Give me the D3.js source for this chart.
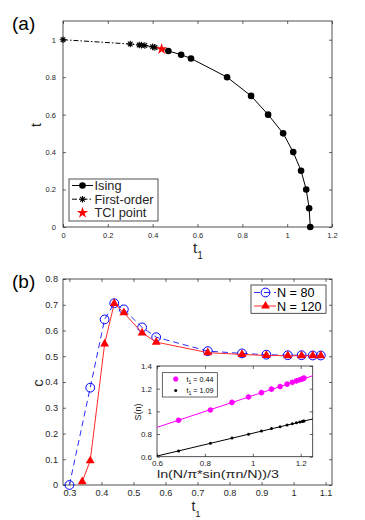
<!DOCTYPE html>
<html><head><meta charset="utf-8">
<script src="https://cdn.jsdelivr.net/npm/d3@7"></script>
<style>body{margin:0;background:#fff}svg{display:block}</style>
</head><body>
<svg id="chart" width="365" height="520"></svg>
<script>
// ---------- Panel (a) data ----------
const firstOrderT1 = [0, 0.30, 0.34, 0.35, 0.365, 0.40, 0.41];
const firstOrderT  = [1.0, 0.977, 0.972, 0.971, 0.969, 0.962, 0.959];
const tciT1 = [0.44];
const tciT  = [0.95];
const isingT1 = [0.47, 0.527, 0.571, 0.732, 0.839, 0.915, 0.982, 1.027, 1.062, 1.085, 1.098, 1.103];
const isingT  = [0.94, 0.92, 0.90, 0.80, 0.70, 0.60, 0.50, 0.40, 0.30, 0.20, 0.10, 0.0];
const legendA = ["Ising", "First-order", "TCI point"];
const ticksAX = [0, 0.2, 0.4, 0.6, 0.8, 1, 1.2];
const ticksAY = [0, 0.2, 0.4, 0.6, 0.8, 1];

// ---------- Panel (b) data ----------
const t1N80  = [0.30, 0.365, 0.41, 0.44, 0.47, 0.527, 0.571, 0.732, 0.839, 0.915, 0.982, 1.025, 1.06, 1.085];
const cN80   = [0.0, 0.378, 0.643, 0.706, 0.682, 0.612, 0.574, 0.520, 0.511, 0.506, 0.504, 0.504, 0.503, 0.503];
const t1N120 = [0.34, 0.365, 0.41, 0.44, 0.47, 0.527, 0.571, 0.732, 0.839, 0.915, 0.982, 1.025, 1.06, 1.085];
const cN120  = [0.013, 0.094, 0.548, 0.705, 0.669, 0.591, 0.555, 0.514, 0.507, 0.503, 0.502, 0.502, 0.502, 0.502];
const legendB = ["N = 80", "N = 120"];
const ticksBX = [0.3, 0.4, 0.5, 0.6, 0.7, 0.8, 0.9, 1, 1.1];
const ticksBY = [0, 0.1, 0.2, 0.3, 0.4, 0.5, 0.6, 0.7, 0.8];

// ---------- Inset data ----------
const insetX   = [0.69, 0.823, 0.913, 0.982, 1.036, 1.078, 1.114, 1.143, 1.165, 1.182, 1.196, 1.206, 1.211, 1.214];
const sT044    = [0.921, 1.012, 1.079, 1.127, 1.165, 1.196, 1.219, 1.240, 1.256, 1.269, 1.279, 1.286, 1.290, 1.294];
const sT109    = [0.651, 0.718, 0.764, 0.799, 0.826, 0.848, 0.865, 0.880, 0.891, 0.900, 0.907, 0.911, 0.914, 0.915];
const fitT044  = [0.439, 0.70];   // intercept, slope
const fitT109  = [0.304, 0.503];
const legendI  = ["0.44", "1.09"];
const ticksIX  = [0.6, 0.8, 1, 1.2];
const ticksIY  = [0.6, 0.8, 1, 1.2, 1.4];

// ---------- drawing ----------
const FONT = "'Liberation Sans', Arial, Helvetica, sans-serif";
const AX = "#262626";
const svg = d3.select("#chart");
const fmt = d => String(+d.toFixed(2));

function frame(x, y, xt, yt, fs, padX, padY, fill) {
  const [x0, x1] = x.range(), [y0, y1] = y.range();
  const g = svg.append("g");
  if (fill) g.append("rect").attr("x", x0).attr("y", y1).attr("width", x1 - x0).attr("height", y0 - y1).attr("fill", "#fff");
  const style = a => { a.attr("font-size", fs).attr("font-family", FONT).attr("color", AX);
    a.select(".domain").remove(); a.selectAll(".tick line").attr("stroke-width", 0.7); };
  g.append("g").attr("transform", `translate(0,${y0})`)
    .call(d3.axisBottom(x).tickValues(xt).tickSize(-3).tickPadding(padX).tickFormat(fmt)).call(style);
  g.append("g").attr("transform", `translate(0,${y1})`)
    .call(d3.axisTop(x).tickValues(xt).tickSize(-3).tickFormat("")).call(style);
  g.append("g").attr("transform", `translate(${x0},0)`)
    .call(d3.axisLeft(y).tickValues(yt).tickSize(-3).tickPadding(padY).tickFormat(fmt)).call(style);
  g.append("g").attr("transform", `translate(${x1},0)`)
    .call(d3.axisRight(y).tickValues(yt).tickSize(-3).tickFormat("")).call(style);
  g.append("rect").attr("x", x0).attr("y", y1).attr("width", x1 - x0).attr("height", y0 - y1)
    .attr("fill", "none").attr("stroke", AX).attr("stroke-width", 0.8);
  return g;
}
function asterisk(r) {
  const a = r * 0.7071;
  return `M${-r},0L${r},0M0,${-r}L0,${r}M${-a},${-a}L${a},${a}M${-a},${a}L${a},${-a}`;
}
function subLabel(g, x, y, main, sub, fs, rotate) {
  const t = g.append("text").attr("font-family", FONT).attr("font-size", fs).attr("fill", AX)
    .attr("text-anchor", "middle");
  if (rotate) t.attr("transform", `translate(${x},${y}) rotate(-90)`); else t.attr("x", x).attr("y", y);
  t.append("tspan").text(main);
  if (sub) t.append("tspan").attr("font-size", fs * 0.68).attr("dy", fs * 0.42).text(sub);
  return t;
}

// ===== Panel (a) =====
const xA = d3.scaleLinear().domain([0, 1.2]).range([63, 332]);
const yA = d3.scaleLinear().domain([0, 1.1]).range([227, 21]);
frame(xA, yA, ticksAX, ticksAY, 7.5, 5.8, 7, false);
const gA = svg.append("g");
const line = (x, y) => d3.line().x(d => x(d[0])).y(d => y(d[1]));
const foPts = firstOrderT1.map((v, i) => [v, firstOrderT[i]]).concat([[tciT1[0], tciT[0]]]);
const isPts = [[tciT1[0], tciT[0]]].concat(isingT1.map((v, i) => [v, isingT[i]]));
gA.append("path").attr("d", line(xA, yA)(foPts)).attr("fill", "none").attr("stroke", "#000")
  .attr("stroke-width", 1).attr("stroke-dasharray", "5,2,1.5,2");
gA.append("path").attr("d", line(xA, yA)(isPts)).attr("fill", "none").attr("stroke", "#000").attr("stroke-width", 1);
gA.selectAll(".fo").data(firstOrderT1).join("path")
  .attr("transform", (d, i) => `translate(${xA(d)},${yA(firstOrderT[i])})`)
  .attr("d", asterisk(3.3)).attr("stroke", "#000").attr("stroke-width", 1.1);
gA.selectAll(".is").data(isingT1).join("circle")
  .attr("cx", d => xA(d)).attr("cy", (d, i) => yA(isingT[i])).attr("r", 3.3).attr("fill", "#000");
const star = d3.symbol().type(d3.symbolStar).size(40);
gA.selectAll(".tci").data(tciT1).join("path")
  .attr("transform", (d, i) => `translate(${xA(d)},${yA(tciT[i])})`).attr("d", star()).attr("fill", "#ff0000");
// legend (a)
const lgA = svg.append("g");
lgA.append("rect").attr("x", 69).attr("y", 179).attr("width", 89).attr("height", 42)
  .attr("fill", "#fff").attr("stroke", AX).attr("stroke-width", 0.8);
const rowsA = [185.5, 199.2, 212.8];
legendA.forEach((txt, i) => {
  const y = rowsA[i];
  if (i === 0) {
    lgA.append("line").attr("x1", 72).attr("x2", 93).attr("y1", y).attr("y2", y).attr("stroke", "#000");
    lgA.append("circle").attr("cx", 82.5).attr("cy", y).attr("r", 3.3).attr("fill", "#000");
  } else if (i === 1) {
    lgA.append("line").attr("x1", 72).attr("x2", 93).attr("y1", y).attr("y2", y).attr("stroke", "#000")
      .attr("stroke-dasharray", "5,2,1.5,2");
    lgA.append("path").attr("transform", `translate(82.5,${y})`).attr("d", asterisk(3.3))
      .attr("stroke", "#000").attr("stroke-width", 1.1);
  } else {
    lgA.append("path").attr("transform", `translate(82.5,${y})`).attr("d", star()).attr("fill", "#ff0000");
  }
  lgA.append("text").attr("x", 94.5).attr("y", y + 4.5).attr("font-family", FONT).attr("font-size", 12.8)
    .attr("fill", AX).text(txt);
});
// labels (a)
svg.append("text").attr("x", 12).attr("y", 30).attr("font-family", FONT).attr("font-size", 19).attr("fill", "#000").text("(a)");
subLabel(svg, 41, 125, "t", null, 14, true);
subLabel(svg, 198, 253, "t", "1", 15, false);

// ===== Panel (b) =====
const xB = d3.scaleLinear().domain([0.28, 1.12]).range([63, 332]);
const yB = d3.scaleLinear().domain([0, 0.8]).range([485, 279]);
frame(xB, yB, ticksBX, ticksBY, 9.2, 4.5, 5, false);
const gB = svg.append("g");
const p80 = t1N80.map((v, i) => [v, cN80[i]]);
const p120 = t1N120.map((v, i) => [v, cN120[i]]);
gB.append("path").attr("d", line(xB, yB)(p80)).attr("fill", "none").attr("stroke", "#2b2bff")
  .attr("stroke-width", 1).attr("stroke-dasharray", "6,4");
gB.selectAll(".c80").data(p80).join("circle").attr("cx", d => xB(d[0])).attr("cy", d => yB(d[1]))
  .attr("r", 4.4).attr("fill", "none").attr("stroke", "#0000ff").attr("stroke-width", 1);
gB.append("path").attr("d", line(xB, yB)(p120)).attr("fill", "none").attr("stroke", "#ff2a2a").attr("stroke-width", 1);
const tri = d3.symbol().type(d3.symbolTriangle).size(34);
gB.selectAll(".c120").data(p120).join("path").attr("transform", d => `translate(${xB(d[0])},${yB(d[1])})`)
  .attr("d", tri()).attr("fill", "#ff0000");
// legend (b)
const lgB = svg.append("g");
lgB.append("rect").attr("x", 251).attr("y", 285).attr("width", 75).attr("height", 28.3)
  .attr("fill", "#fff").attr("stroke", AX).attr("stroke-width", 0.8);
const rowsB = [292.5, 306];
legendB.forEach((txt, i) => {
  const y = rowsB[i];
  if (i === 0) {
    lgB.append("line").attr("x1", 254).attr("x2", 276).attr("y1", y).attr("y2", y).attr("stroke", "#2b2bff").attr("stroke-dasharray", "6,4");
    lgB.append("circle").attr("cx", 265.5).attr("cy", y).attr("r", 4.4).attr("fill", "none").attr("stroke", "#0000ff");
  } else {
    lgB.append("line").attr("x1", 254).attr("x2", 276).attr("y1", y).attr("y2", y).attr("stroke", "#ff2a2a");
    lgB.append("path").attr("transform", `translate(265.5,${y})`).attr("d", tri()).attr("fill", "#ff0000");
  }
  lgB.append("text").attr("x", 277).attr("y", y + 4.5).attr("font-family", FONT).attr("font-size", 12.6)
    .attr("fill", "#000").text(txt);
});
svg.append("text").attr("x", 12).attr("y", 288).attr("font-family", FONT).attr("font-size", 19).attr("fill", "#000").text("(b)");
subLabel(svg, 43, 383, "c", null, 15, true);
subLabel(svg, 196, 511, "t", "1", 14, false);

// ===== Inset =====
const xI = d3.scaleLinear().domain([0.6, 1.25]).range([157, 312.7]);
const yI = d3.scaleLinear().domain([0.6, 1.4]).range([456.7, 366]);
frame(xI, yI, ticksIX, ticksIY, 8, 4, 5, true);
const gI = svg.append("g");
const fitLine = (f) => [xI.domain()[0], xI.domain()[1]].map(x => [x, f[0] + f[1] * x]);
gI.append("path").attr("d", line(xI, yI)(fitLine(fitT044))).attr("stroke", "#ff00ff").attr("stroke-width", 1).attr("fill", "none");
gI.append("path").attr("d", line(xI, yI)(fitLine(fitT109))).attr("stroke", "#000").attr("stroke-width", 1).attr("fill", "none");
gI.selectAll(".m").data(insetX).join("path").attr("transform", (d, i) => `translate(${xI(d)},${yI(sT044[i])})`)
  .attr("d", asterisk(2.8)).attr("stroke", "#ff00ff").attr("stroke-width", 1.6);
gI.selectAll(".k").data(insetX).join("circle").attr("cx", d => xI(d)).attr("cy", (d, i) => yI(sT109[i]))
  .attr("r", 1.5).attr("fill", "#000");
// inset legend
const lgI = svg.append("g");
lgI.append("rect").attr("x", 162.3).attr("y", 372.7).attr("width", 55).attr("height", 24.3)
  .attr("fill", "#fff").attr("stroke", AX).attr("stroke-width", 0.7);
const rowsI = [379, 390.5];
legendI.forEach((v, i) => {
  const y = rowsI[i];
  if (i === 0) lgI.append("path").attr("transform", `translate(175.7,${y})`).attr("d", asterisk(2.6)).attr("stroke", "#ff00ff").attr("stroke-width", 1.6);
  else lgI.append("circle").attr("cx", 175.7).attr("cy", y).attr("r", 1.5).attr("fill", "#000");
  const t = lgI.append("text").attr("x", 186.5).attr("y", y + 2.6).attr("font-family", FONT).attr("font-size", 7.2).attr("fill", "#000");
  t.append("tspan").text("t");
  t.append("tspan").attr("font-size", 5).attr("dy", 2).text("1");
  t.append("tspan").attr("dy", -2).text(" = " + v);
});
subLabel(svg, 141, 412, "S(n)", null, 9, true);
svg.append("text").attr("x", 157).attr("y", 478).attr("font-family", FONT)
  .attr("font-size", 11).attr("textLength", 122).attr("lengthAdjust", "spacingAndGlyphs")
  .attr("fill", AX).text("ln(N/\u03c0*sin(\u03c0n/N))/3");
</script>
</body></html>
